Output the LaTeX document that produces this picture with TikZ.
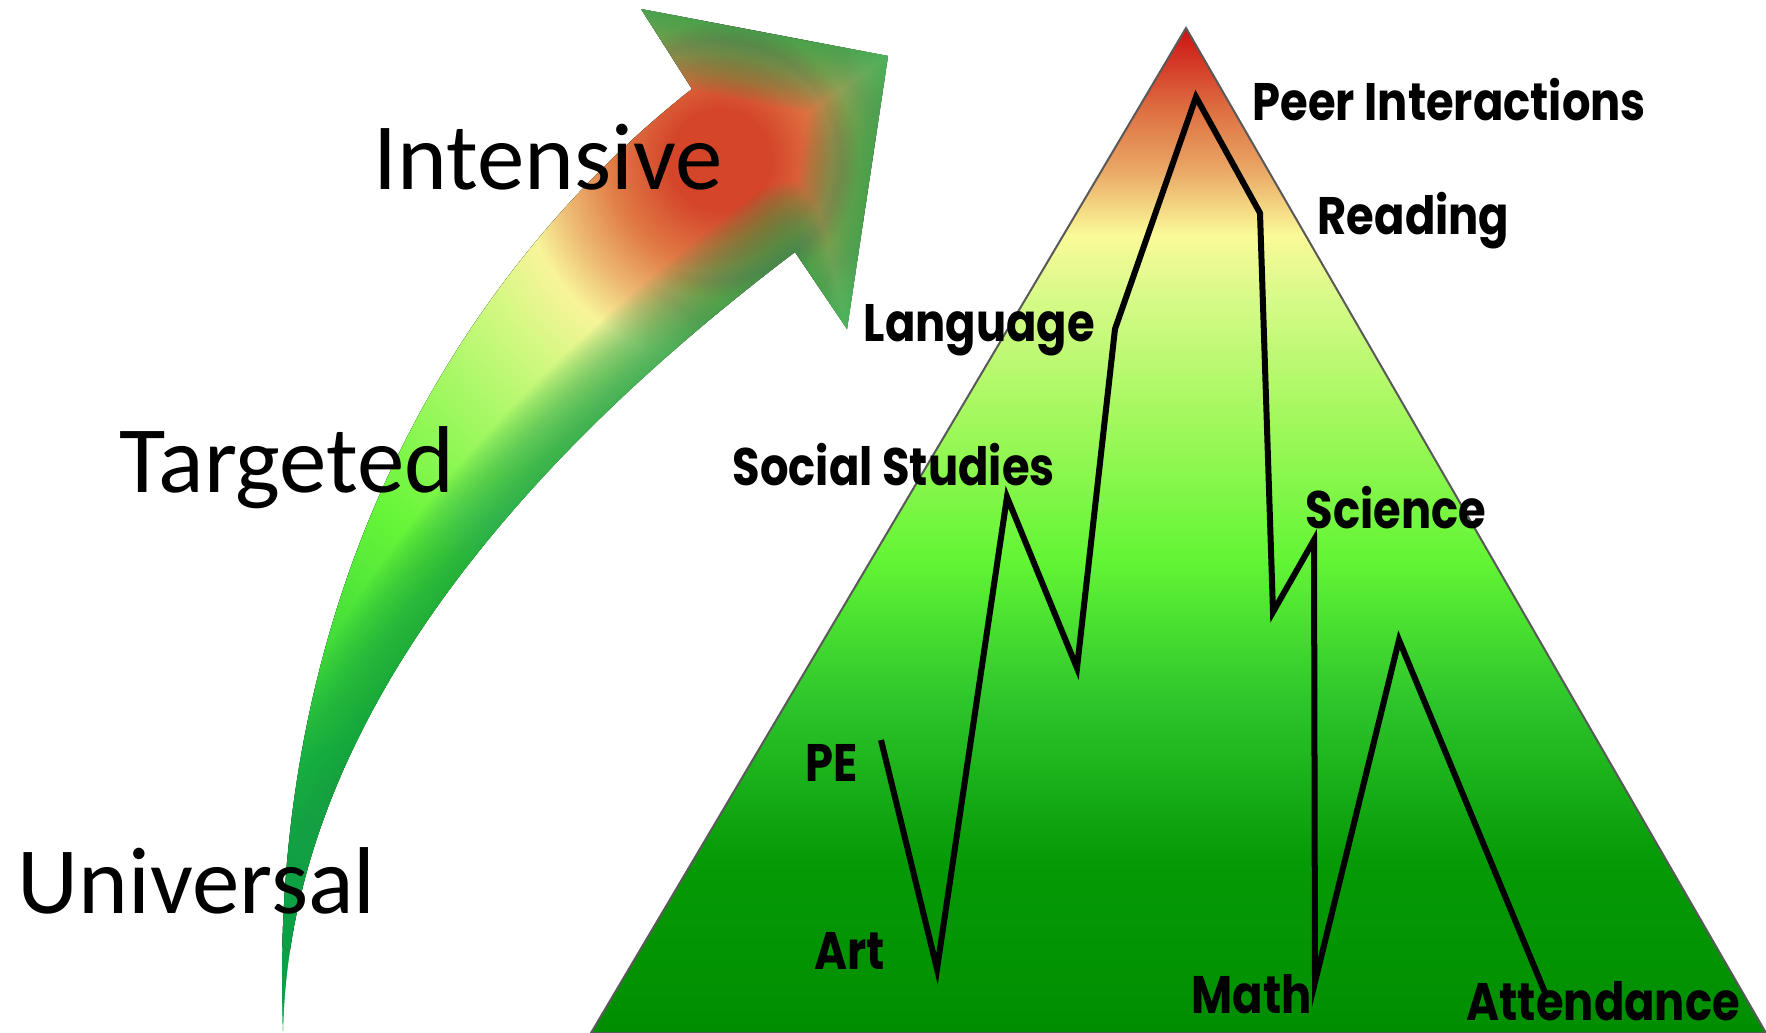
\documentclass[tikz,border=0pt]{standalone}
\usepackage{fontspec}
\setmainfont{Carlito}
\newfontfamily\subjfont{Poppins}[FakeStretch=0.85]
\usetikzlibrary{positioning}

% colours of the peak
\definecolor{pkbottom}{HTML}{008E00}
\definecolor{pkdark}{HTML}{069A06}
\definecolor{pkmid}{HTML}{2EC62C}
\definecolor{pkbright}{HTML}{62F534}
\definecolor{pklight}{HTML}{A2F85C}
\definecolor{pkpale}{HTML}{D6FA88}
\definecolor{pkyellow}{HTML}{FAFA98}
\definecolor{pkorange}{HTML}{EAA866}
\definecolor{pkburnt}{HTML}{DE7042}
\definecolor{pkred}{HTML}{CC1212}
% colours of the arrow
\definecolor{glowred}{HTML}{D4452A}
\definecolor{gloworange}{HTML}{E07A45}
\definecolor{glowamber}{HTML}{EDB872}
\definecolor{glowyellow}{HTML}{F8F49A}
\definecolor{glowlime}{HTML}{D6F884}
\definecolor{glowlight}{HTML}{A6F865}
\definecolor{glowbright}{HTML}{66F538}
\definecolor{glowgreen}{HTML}{3CD83A}
\definecolor{glowdeep}{HTML}{14B642}
\definecolor{glowbase}{HTML}{0AAA46}
\definecolor{arrowedge}{HTML}{15A04A}

\pgfdeclareverticalshading{peakfill}{100bp}{
    color(0bp)=(pkbottom); color(25bp)=(pkbottom); color(33.6bp)=(pkdark);
    color(41.6bp)=(pkmid); color(48.5bp)=(pkbright); color(55.5bp)=(pklight);
    color(61.5bp)=(pkpale); color(64.7bp)=(pkyellow); color(67.9bp)=(pkorange);
    color(70.9bp)=(pkburnt); color(75bp)=(pkred); color(100bp)=(pkred)}
\pgfdeclareradialshading{arrowglow}{\pgfpointorigin}{
    color(0bp)=(glowred); color(1.4bp)=(glowred); color(3bp)=(gloworange);
    color(4.4bp)=(glowamber); color(5.6bp)=(glowyellow); color(7.2bp)=(glowlime);
    color(9.7bp)=(glowlight); color(13.5bp)=(glowbright); color(18bp)=(glowgreen);
    color(21.5bp)=(glowdeep); color(25bp)=(glowbase); color(50bp)=(glowbase)}

\begin{document}
\begin{tikzpicture}[x=0.01cm, y=-0.01cm,
        level/.style={font=\fontsize{27}{32}\selectfont, inner sep=0pt, anchor=base west},
        subject/.style={font=\subjfont\bfseries\fontsize{15}{17}\selectfont, inner sep=0pt, anchor=base west},
        trend/.style={line width=0.06cm, line join=miter},
        softedge/.style={draw=arrowedge, opacity=0.045, line join=round}]
    \useasboundingbox (0,0) rectangle (1766,1033);

    % The curved arrow
    \def\arrowpath{(283,1031) .. controls (265,550) and (495,243) .. (692,89) -- (641,9)
        -- (888,56) -- (847,329) -- (795,252) .. controls (560,430) and (290,700) .. (283,1031) -- cycle}
    \fill[glowbase] \arrowpath;
    \begin{scope}
        \clip \arrowpath;
        \fill[shading=arrowglow] (720,160) circle (900);
        \foreach \w in {1,...,28}
            \draw[softedge, line width=\w*0.05cm] (641,9) -- (888,56) -- (847,329) -- (795,252)
                .. controls (560,430) and (290,700) .. (283,1031);
    \end{scope}

    % The peak
    \path[draw=black!65, line width=0.02cm, shading=peakfill] (1186,28) -- (1766,1033) -- (591,1033) -- cycle;

    % Corners of the profile
    \coordinate (pe)       at (881,740);
    \coordinate (art)      at (937,969);
    \coordinate (social)   at (1007,497);
    \coordinate (socdip)   at (1077,668);
    \coordinate (language) at (1115,329);
    \coordinate (peer)     at (1196,97);
    \coordinate (reading)  at (1260,213);
    \coordinate (readdip)  at (1273,612);
    \coordinate (science)  at (1314,540);
    \coordinate (math)     at (1315,982);
    \coordinate (attpeak)  at (1399,640);
    \coordinate (attend)   at (1546,995);

    \draw[trend] (pe) -- (art) -- (social) -- (socdip) -- (language) -- (peer) -- (reading)
        -- (readdip) -- (science) -- (math) -- (attpeak) -- (attend);

    % Subject labels
    \node[subject] (lpeer)     at (1252,120) {Peer Interactions};
    \node[subject] (lreading)  at (1317,234) {Reading};
    \node[subject] (llanguage) at (863,341)  {Language};
    \node[subject] (lsocial)   at (732,485)  {Social Studies};
    \node[subject] (lscience)  at (1305,528) {Science};
    \node[subject] (lpe)       at (805,781)  {PE};
    \node[subject] (lart)      at (814,969)  {Art};
    \node[subject] (lmath)     at (1191,1013) {Math};
    \node[subject, text depth=0pt] (lattend) at (1466,1020) {Attendance};

    % Tiers
    \node[level] (intensive) at (373,189) {Intensive};
    \node[level] (targeted)  at (119,492) {Targeted};
    \node[level] (universal) at (17,913)  {Universal};
\end{tikzpicture}
\end{document}
